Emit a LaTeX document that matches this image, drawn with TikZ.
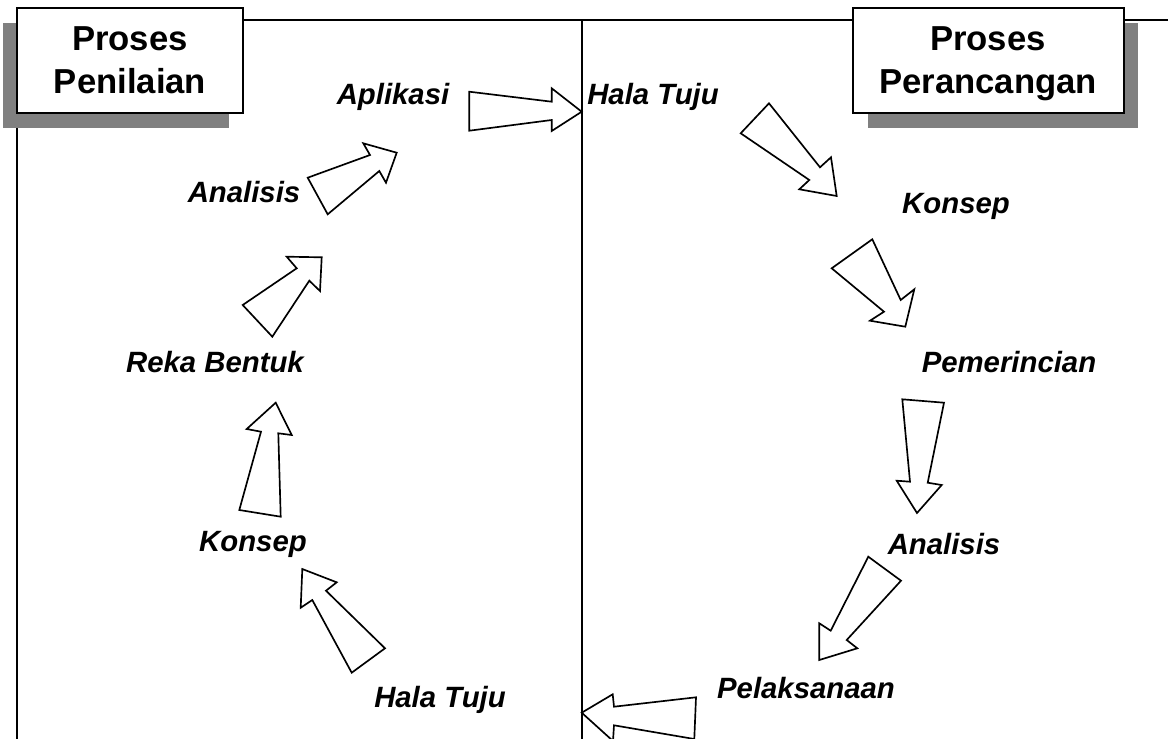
\documentclass[tikz,border=0pt]{standalone}
\usepackage{fontspec}
\setmainfont{Liberation Sans}
\definecolor{shadowgray}{RGB}{128,128,128}
\tikzset{every picture/.style={line width=1.25pt}}
\tikzset{
  steplabel/.style={font=\fontsize{22}{26}\selectfont\bfseries\itshape, inner sep=0pt},
  boxtitle/.style={font=\fontsize{26}{32}\selectfont\bfseries, inner sep=0pt, align=center, anchor=north},
  blockarrow/.style={draw=black, fill=white, line join=miter}
}
\begin{document}
\begin{tikzpicture}[x=0.75pt,y=0.75pt,yscale=-1,xscale=1]
\useasboundingbox (0,0) rectangle (1168,739);

% frame lines
\draw (17,20) -- (1168,20) ;
\draw (17,20) -- (17,739) ;
\draw (582,20) -- (582,739) ;

% title boxes with shadow
\fill [shadowgray] (3,23) rectangle (229,128) ;
\draw [fill=white] (17,8) rectangle (243,113) ;
\fill [shadowgray] (868,23) rectangle (1138,128) ;
\draw [fill=white] (853,8) rectangle (1124,113) ;

\draw (130,26) node (penilaian) [boxtitle] {Proses\\Penilaian};
\draw (988,26) node (perancangan) [boxtitle] {Proses\\Perancangan};

% left cycle arrows
\draw [blockarrow] (302.3,569) -- (336.7,582.3) -- (326,590.7) -- (385,648.3) -- (351.7,672.7) -- (312.3,600) -- (300.7,607.7) -- cycle ;
\draw [blockarrow] (275.7,402.7) -- (291.7,435) -- (278.3,433.3) -- (280.7,516.7) -- (239.3,510) -- (261,431.7) -- (246.7,429) -- cycle ;
\draw [blockarrow] (321.7,257.3) -- (320,291) -- (309.3,280.7) -- (272.3,336.7) -- (242.7,305) -- (296.7,268.3) -- (286.7,256.7) -- cycle ;
\draw [blockarrow] (396.7,152.7) -- (386,182.7) -- (379.3,171) -- (327.7,214.3) -- (307.7,177.7) -- (370,155) -- (363.3,143.3) -- cycle ;
\draw [blockarrow] (469.3,91.7) -- (551.7,101.7) -- (551.7,88.3) -- (581.7,111.7) -- (551.7,131) -- (551.7,120) -- (469.3,130.7) -- cycle ;

% right cycle arrows
\draw [blockarrow] (769,103.3) -- (820,167.3) -- (831,157.3) -- (836.7,196) -- (799.3,189.3) -- (809.3,180) -- (740.7,133.3) -- cycle ;
\draw [blockarrow] (872.3,239.3) -- (900.7,300) -- (914.3,289.3) -- (905.3,326.7) -- (870,320.7) -- (884,311.7) -- (831.7,268.3) -- cycle ;
\draw [blockarrow] (944,402.7) -- (927.7,482.7) -- (941.7,485) -- (917,513) -- (896.7,480.7) -- (910,481.7) -- (902.3,399.3) -- cycle ;
\draw [blockarrow] (868.3,556.7) -- (901,580.7) -- (846.7,640) -- (857.3,648.3) -- (819.3,660) -- (819.3,623.3) -- (830.7,630.7) -- cycle ;
\draw [blockarrow] (696,697.3) -- (614,706.7) -- (612.7,694.3) -- (581.7,712.7) -- (613,741) -- (614,725.3) -- (694.3,739) -- cycle ;

% left labels
\draw (393,97) node (aplikasi) [steplabel] {Aplikasi};
\draw (244,192) node (analisisL) [steplabel] {Analisis};
\draw (215,362) node (rekabentuk) [steplabel] {Reka Bentuk};
\draw (253,544) node (konsepL) [steplabel] {Konsep};
\draw (440,700) node (halatujuL) [steplabel] {Hala Tuju};

% right labels
\draw (653,97) node (halatujuR) [steplabel] {Hala Tuju};
\draw (956,206) node (konsepR) [steplabel] {Konsep};
\draw (1009,362) node (pemerincian) [steplabel] {Pemerincian};
\draw (944,544) node (analisisR) [steplabel] {Analisis};
\draw (806,688) node (pelaksanaan) [steplabel] {Pelaksanaan};

\end{tikzpicture}
\end{document}
